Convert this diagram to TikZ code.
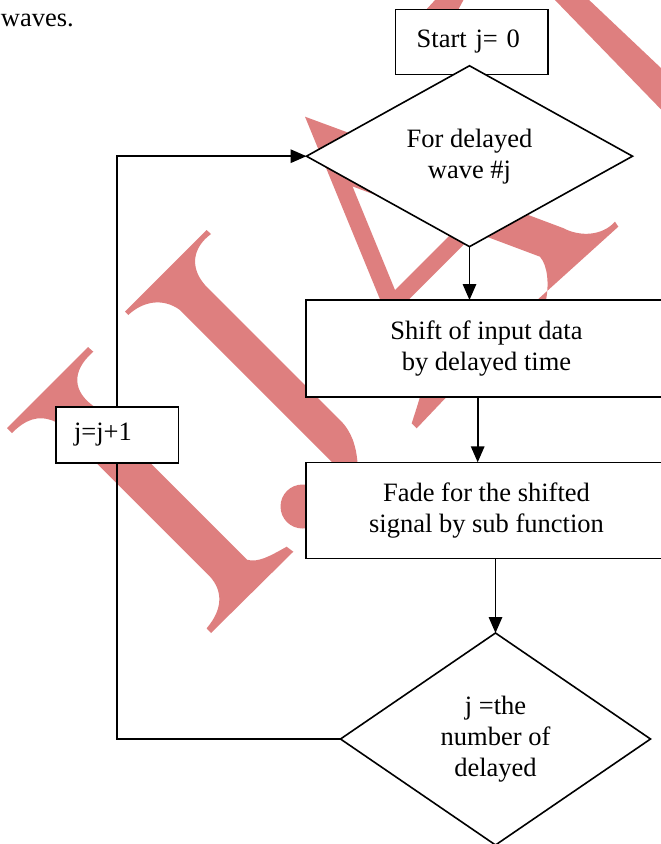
\documentclass[tikz,border=0pt]{standalone}
\usepackage{fontspec}
\setmainfont{Liberation Serif}
\usetikzlibrary{shapes.geometric,arrows.meta,calc}

\definecolor{wm}{RGB}{222,127,127}

\begin{document}
\begin{tikzpicture}[x=1pt,y=-1pt,
  every node/.style={font=\fontsize{26.5}{31}\selectfont, inner sep=0pt, outer sep=0pt},
  box/.style={draw, fill=white, line width=1.6pt, align=center},
  decision/.style={diamond, draw, fill=white, line width=1.6pt, align=center},
  flow/.style={line width=1.6pt},
  arr/.style={flow, -{Triangle[length=16pt,width=13.5pt]}},
]
\useasboundingbox (0,0) rectangle (661,844);
\clip (0,0) rectangle (661,844);

% ---- background watermark letters ----
% letter I
\fill[wm] (88,347) -- (7,428) -- (12,433)
  .. controls (25,420) and (38,414) .. (55,421.6)
  -- (210,576.6)
  .. controls (222,590) and (224,608) .. (206.6,628.3)
  -- (211,633) -- (293.3,551.7) -- (286.7,546.7)
  .. controls (270,556) and (258,563) .. (247,559.7)
  -- (93,405.7)
  .. controls (74,392) and (70,372) .. (93.3,351.7) -- cycle;
% letter J
\fill[wm] (206.6,230) -- (125,311.7) -- (128.3,315)
  .. controls (142,302) and (162,297) .. (180,310)
  -- (345,475) -- (362,475) -- (357.5,462.3)
  .. controls (356,446) and (352,432) .. (340,420)
  -- (205,285)
  .. controls (190,268) and (192,248) .. (211,234) -- cycle;
\fill[wm] (302.5,506.5) circle[radius=22pt];
% letter A
\fill[wm, even odd rule]
  (305,116.7) -- (350,133.3) -- (523,213) -- (563,228)
  .. controls (580,237) and (602,236) .. (615,221.7)
  -- (618.3,226.7) -- (525,311) -- (532,315) -- (546,300)
  .. controls (549,285) and (548,266) .. (540,256.7)
  -- (475.7,232.6) -- (401.8,306.5) -- (430,375) -- (455,388)
  -- (416.7,428.3) -- (411.7,423.3)
  .. controls (415,413) and (418,404) .. (420,396.7)
  -- cycle
  (352.5,186.4) -- (395,290) -- (458.8,226.2) -- cycle;
% next letters, cut by the top edge
\fill[wm] (553,-2) -- (587,-2) -- (680,86) -- (680,129) -- cycle;
\fill[wm] (424,12) -- (436,-1) -- (464,-1) -- (457,12) -- cycle;

% ---- text above the chart ----
\node[anchor=base west] (waves) at (1,26.7) {waves.};

% ---- flowchart ----
\node[box, minimum width=152.3pt, minimum height=65pt, text width=110pt,
      align=left, inner xsep=21.2pt] (start) at (471.65,41.8) {Start j= 0};
\node[decision, minimum width=326pt, minimum height=161pt] (loop) at (469.5,156.2)
  {For delayed\\wave \#j};
\node[box, minimum width=361pt, minimum height=96.7pt] (shift) at (486.5,348.35)
  {Shift of input data\\by delayed time};
\node[box, minimum width=361pt, minimum height=96pt] (fade) at (486.5,510.3)
  {Fade for the shifted\\signal by sub function};
\node[decision, minimum width=310pt, minimum height=212pt] (last) at (495.5,739)
  {j =the\\number of\\delayed};
\node[box, minimum width=122.6pt, minimum height=56pt, text width=86pt,
      align=left, inner xsep=18.3pt] (inc) at (117,434.7) {j=j+1};

\coordinate (s1) at ([xshift=-8.8pt]shift.south);

\draw[arr] (loop.south) -- (loop.south |- shift.north);
\draw[arr] (s1) -- (s1 |- fade.north);
\draw[arr] (fade.south -| last.north) -- (last.north);
\draw[flow] (last.west) -| (inc.south);
\draw[arr] (inc.north) |- (loop.west);
\end{tikzpicture}
\end{document}
